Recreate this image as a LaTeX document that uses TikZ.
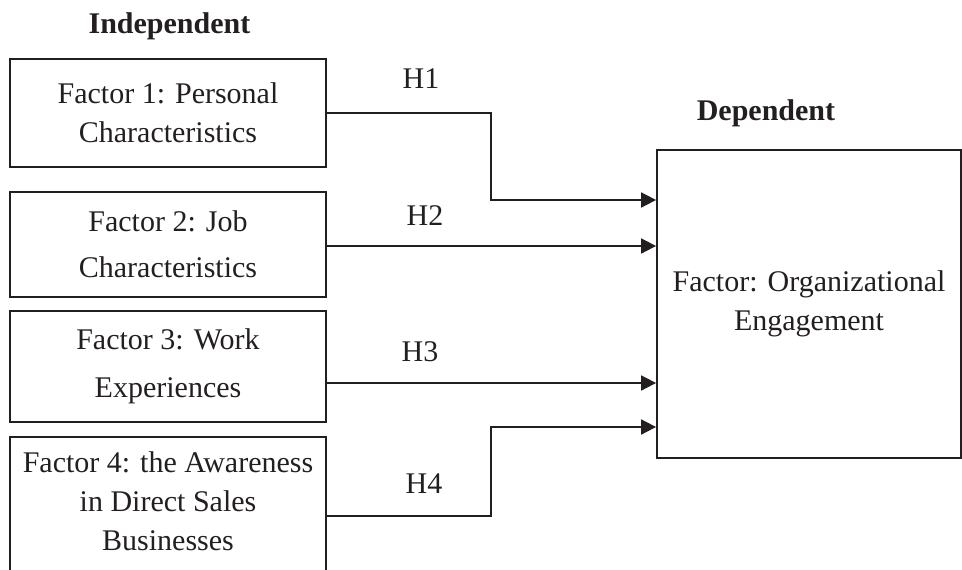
\documentclass[tikz,border=0pt]{standalone}
\usepackage{fontspec}
\setmainfont{Liberation Serif}
\usetikzlibrary{arrows.meta,calc}
\definecolor{ink}{RGB}{35,31,32}
\tikzset{
  factor/.style={draw=ink, line width=1.8pt, minimum width=316pt, align=center, text=ink, font=\fontsize{30}{39}\selectfont},
  link/.style={draw=ink, line width=1.8pt, -{Triangle[length=15pt,width=15pt]}},
  lbl/.style={text=ink, anchor=base, font=\fontsize{30}{36}\selectfont}
}
\begin{document}
\begin{tikzpicture}[x=1pt,y=-1pt]
  \useasboundingbox (0,0) rectangle (962,570);
  \node[lbl, font=\fontsize{30}{36}\selectfont\bfseries] (indep) at (169.5,33) {Independent};
  \node[lbl, font=\fontsize{30}{36}\selectfont\bfseries] (dep) at (766,120) {Dependent};
  \node[factor, minimum height=108pt] (f1) at (168,113) {Factor 1: Personal\\Characteristics};
  \node[factor, minimum height=105pt] (f2) at (168,244.5) {Factor 2: Job\\[7pt]Characteristics};
  \node[factor, minimum height=111pt] (f3) at (168,366.5) {Factor 3: Work\\[9pt]Experiences};
  \node[factor, minimum height=160pt, anchor=north] (f4) at (168,436) {};
  \node[factor, draw=none] (f4txt) at (168,501) {Factor 4: the Awareness\\in Direct Sales\\Businesses};
  \node[factor, minimum width=304pt, minimum height=308pt] (org) at (809,304) {Factor: Organizational\\Engagement};
  \coordinate (in1) at (org.west |- 0,200);
  \coordinate (in2) at (org.west |- 0,246);
  \coordinate (in3) at (org.west |- 0,383);
  \coordinate (in4) at (org.west |- 0,427);
  \coordinate (out4) at (f4.east |- 0,516);
  \draw[link] (f1.east) -| ($(in1)+(-165,0)$) -- (in1);
  \draw[link] (f2.east |- in2) -- (in2);
  \draw[link] (f3.east |- in3) -- (in3);
  \draw[link] (out4) -| ($(in4)+(-165,0)$) -- (in4);
  \foreach \n/\x/\y in {1/421/88,2/425/225,3/420/361,4/424/493}
    \node[lbl] (h\n) at (\x,\y) {H\n};
\end{tikzpicture}
\end{document}
